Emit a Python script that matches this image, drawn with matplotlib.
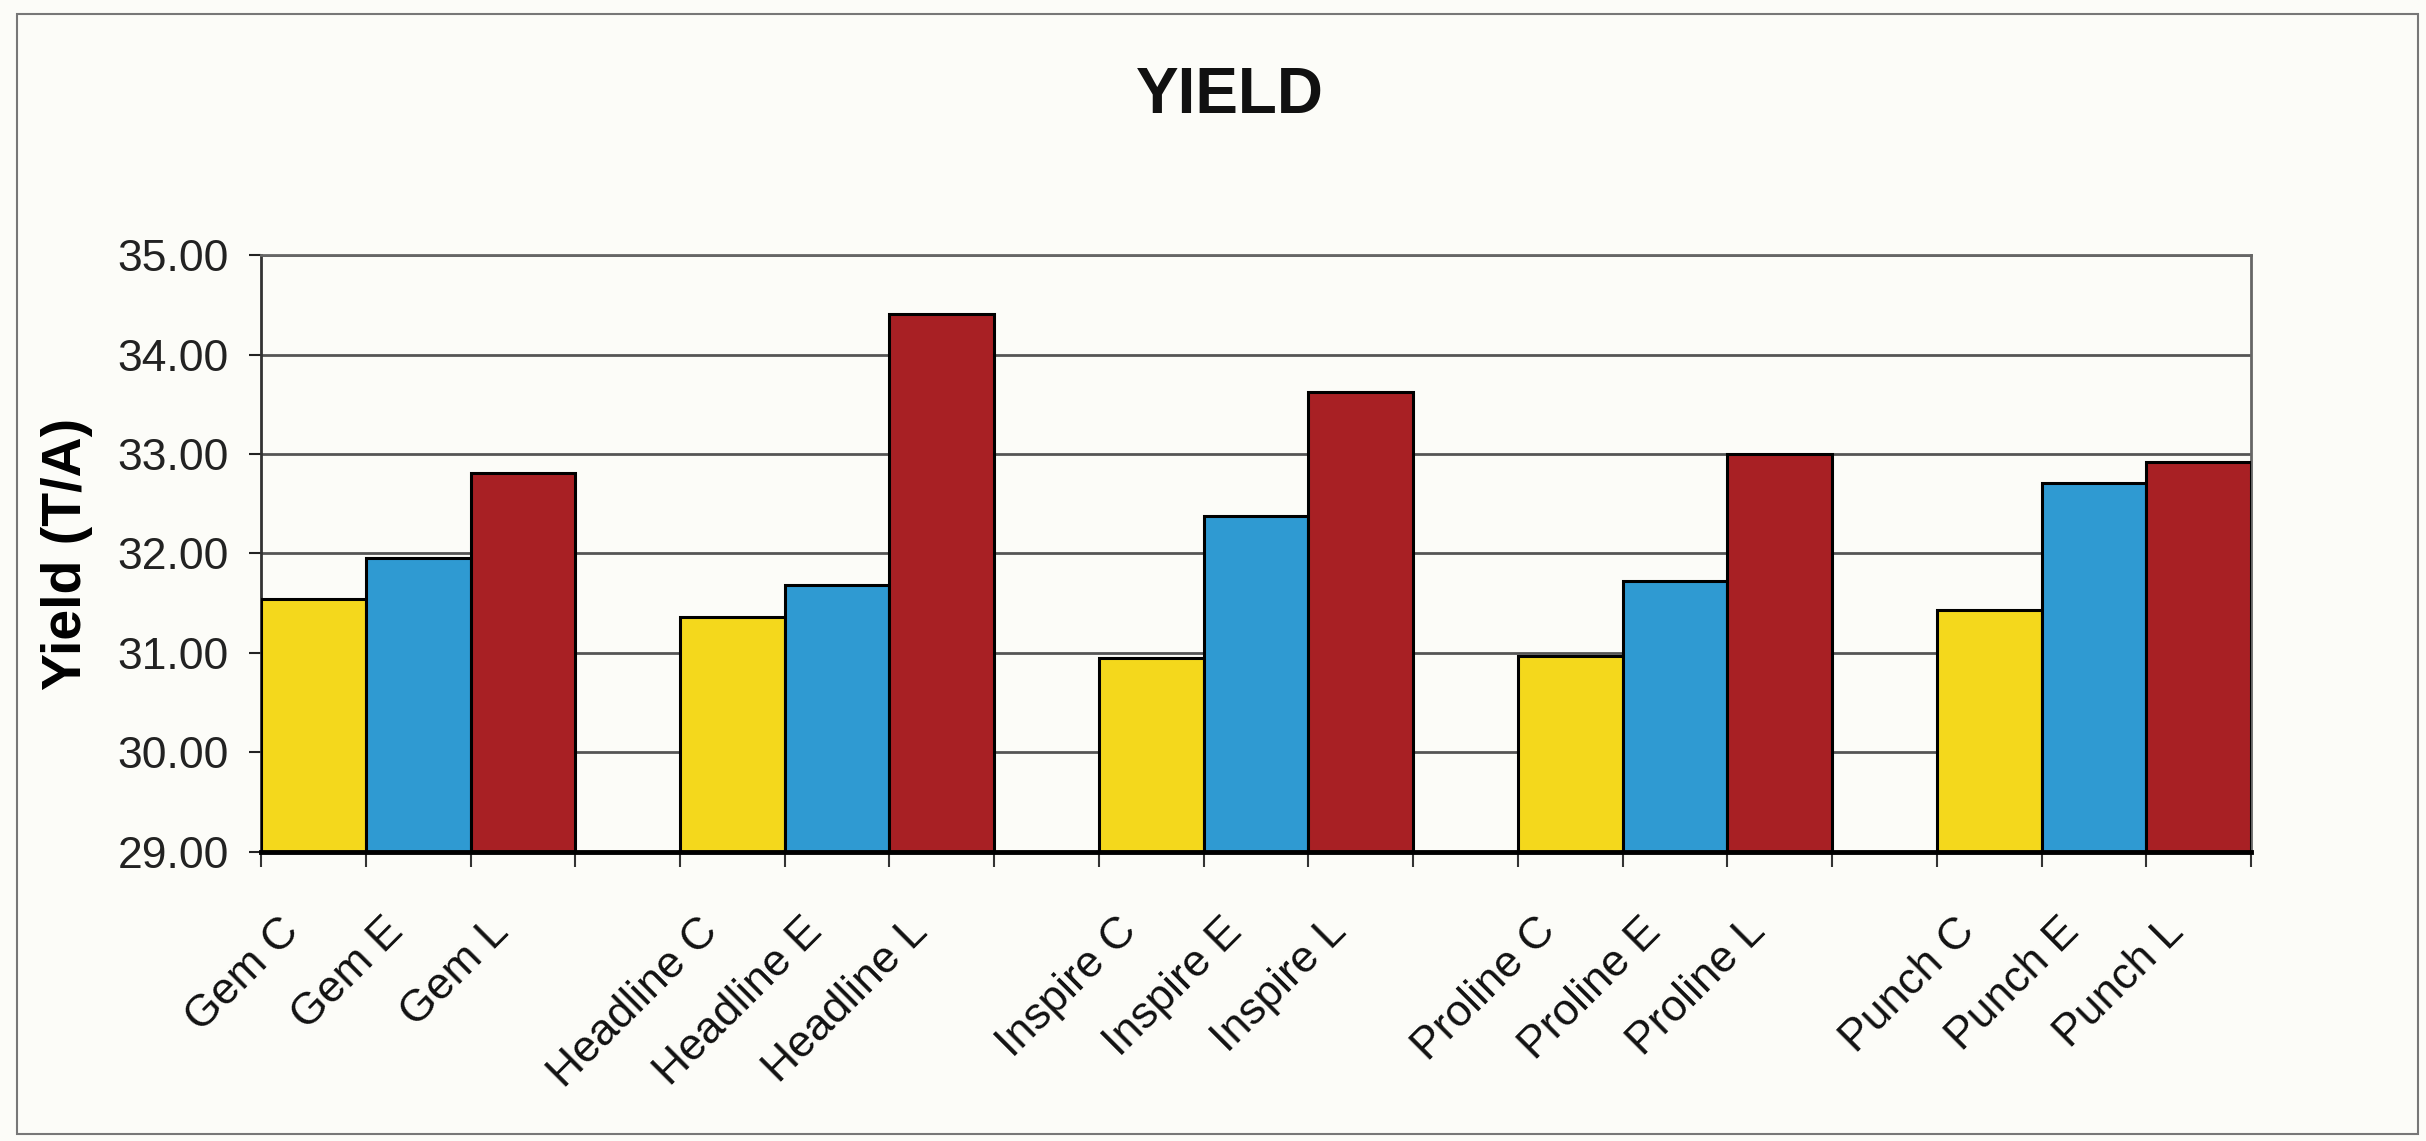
import matplotlib.pyplot as plt
import matplotlib.transforms as mtransforms
from matplotlib.patches import Rectangle
import numpy as np


# data
varieties = ['Gem', 'Headline', 'Inspire', 'Proline', 'Punch']
treatments = ['C', 'E', 'L']
yield_C = [31.54, 31.36, 30.95, 30.97, 31.43]
yield_E = [31.95, 31.68, 32.38, 31.72, 32.71]
yield_L = [32.81, 34.41, 33.62, 33.00, 32.92]

colors = ['#F4D81C', '#2F9AD2', '#A82024']
bg = '#FCFCF8'

plt.rcParams['font.family'] = ['Liberation Sans', 'DejaVu Sans']


def main():
    fig = plt.figure(figsize=(24.26, 11.41), dpi=100, facecolor=bg)
    ax = fig.add_axes([0.1076, 0.2533, 0.8203, 0.5232], facecolor=bg)

    # each variety gets 3 slots plus one empty slot as a gap
    labels = []
    positions = []
    values = []
    bar_colors = []
    series = [yield_C, yield_E, yield_L]
    for i, v in enumerate(varieties):
        for j, t in enumerate(treatments):
            positions.append(i * 4 + j)
            labels.append(f'{v} {t}')
            values.append(series[j][i])
            bar_colors.append(colors[j])
    positions = np.array(positions)
    n_slots = positions.max() + 1

    ax.bar(positions, values, width=1.0, bottom=0, color=bar_colors,
           edgecolor='black', linewidth=2.2, zorder=3)

    ax.set_ylim(29, 35)
    ax.set_xlim(-0.5, n_slots - 0.5)
    ax.set_yticks(np.arange(29, 36, 1))
    ax.set_yticklabels([f'{t:.2f}' for t in np.arange(29, 36, 1)], fontsize=32)
    ax.tick_params(axis='y', length=9, width=1.5, pad=14, colors='#222222')

    # tick marks at slot boundaries, labels placed by hand
    ax.set_xticks(np.arange(-0.5, n_slots, 1.0))
    ax.set_xticklabels([])
    ax.tick_params(axis='x', length=11, width=1.5, color='#333333')

    offset = mtransforms.ScaledTranslation(0, -73 / 100, fig.dpi_scale_trans)
    trans = mtransforms.blended_transform_factory(ax.transData, ax.transAxes) + offset
    for p, lab in zip(positions, labels):
        ax.text(p - 0.2, 0, lab, transform=trans, rotation=45, ha='right',
                va='center', rotation_mode='anchor', fontsize=32, color='#111111')

    ax.yaxis.grid(True, color='#555555', linewidth=2.0, zorder=0)
    ax.set_axisbelow(True)

    for side in ['top', 'right']:
        ax.spines[side].set_color('#666666')
        ax.spines[side].set_linewidth(2.0)
    ax.spines['left'].set_color('#333333')
    ax.spines['left'].set_linewidth(2.0)
    ax.spines['bottom'].set_color('black')
    ax.spines['bottom'].set_linewidth(3.5)
    ax.spines['bottom'].set_zorder(4)

    ax.set_ylabel('Yield (T/A)', fontsize=40, fontweight='bold')
    ax.yaxis.set_label_coords(-0.0845, 0.5)

    fig.text(0.507, 0.916, 'YIELD', ha='center', va='center', fontsize=46,
             fontweight='bold', color='#111111')

    # outer frame of the scanned chart
    fig.patches.append(Rectangle((17 / 2426, 1 - 1134 / 1141),
                                 (2418 - 17) / 2426, (1134 - 14) / 1141,
                                 transform=fig.transFigure, fill=False,
                                 edgecolor='#777777', linewidth=1.5))

    fig.savefig('out.png', dpi=100, facecolor=bg)


main()
